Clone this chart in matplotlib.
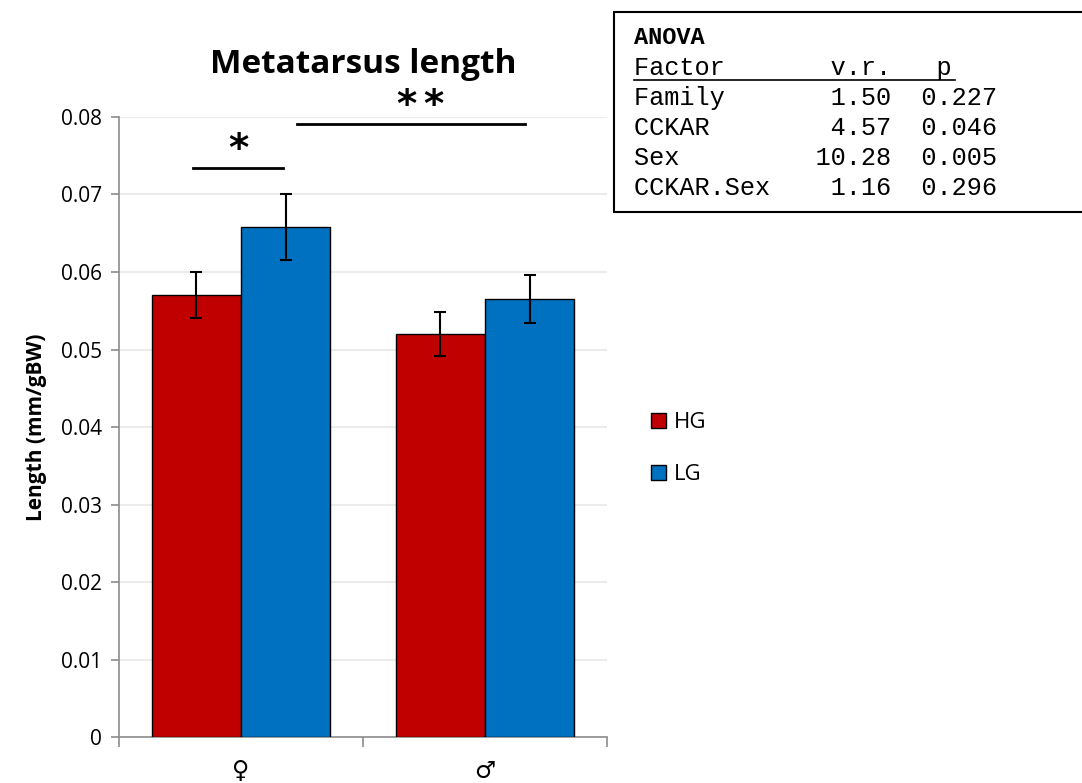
import numpy as np
import matplotlib
matplotlib.use("Agg")
import matplotlib.pyplot as plt
from matplotlib.patches import Rectangle
from matplotlib.lines import Line2D

plt.rcParams['font.family'] = ['Open Sans', 'DejaVu Sans']

sexes = ["\u2640", "\u2642"]
groups = ["HG", "LG"]
hg_mean = [0.0570, 0.0520]
hg_err = [0.0030, 0.0029]
lg_mean = [0.0658, 0.0565]
lg_err = [0.0043, 0.0031]

anova_rows = [
    ("Family", "1.50", "0.227"),
    ("CCKAR", "4.57", "0.046"),
    ("Sex", "10.28", "0.005"),
    ("CCKAR.Sex", "1.16", "0.296"),
]

red = "#C00000"
blue = "#0070C0"
grey = "#8c8c8c"

fig = plt.figure(figsize=(10.82, 7.83), dpi=100)
ax = fig.add_axes([0.110, 0.0587, 0.451, 0.7919])

x = np.arange(len(sexes))
w = 0.365
ax.bar(x - w / 2, hg_mean, w, color=red, edgecolor="black", linewidth=1, label=groups[0], zorder=3)
ax.bar(x + w / 2, lg_mean, w, color=blue, edgecolor="black", linewidth=1, label=groups[1], zorder=3)
ax.errorbar(x - w / 2, hg_mean, yerr=hg_err, fmt="none", ecolor="black", elinewidth=1.5, capsize=4.5, capthick=1.5, zorder=4)
ax.errorbar(x + w / 2, lg_mean, yerr=lg_err, fmt="none", ecolor="black", elinewidth=1.5, capsize=4.5, capthick=1.5, zorder=4)

ax.set_xlim(-0.5, 1.5)
ax.set_ylim(0, 0.08)
ax.set_yticks(np.arange(0, 0.081, 0.01))
ax.set_yticklabels(["0"] + ["%.2f" % v for v in np.arange(0.01, 0.081, 0.01)], fontsize=15)
ax.set_xticks(x)
ax.set_xticklabels(sexes, family="DejaVu Sans", fontsize=17)
ax.set_xticks([-0.5, 0.5, 1.5], minor=True)
ax.tick_params(axis="x", which="major", length=0, pad=16)
ax.tick_params(axis="x", which="minor", length=7, color=grey, width=1.2)
ax.tick_params(axis="y", length=6, color=grey, width=1.2, pad=6)
ax.yaxis.grid(True, color="#ececec", linewidth=1.5, zorder=0)
ax.set_axisbelow(True)
for s in ["top", "right"]:
    ax.spines[s].set_visible(False)
for s in ["left", "bottom"]:
    ax.spines[s].set_color(grey)
    ax.spines[s].set_linewidth(1.2)

ax.set_ylabel("Length (mm/gBW)", fontsize=15, fontweight="bold", labelpad=10)
ax.set_title("Metatarsus length", fontsize=24, fontweight="bold", pad=32)

# significance brackets
ax.plot([-0.197, 0.172], [0.0734, 0.0734], color="black", lw=2, clip_on=False)
ax.text(-0.012, 0.0757, "*", ha="center", va="center", fontsize=28, fontweight="bold", family="DejaVu Sans")
ax.plot([0.229, 1.164], [0.0791, 0.0791], color="black", lw=2, clip_on=False)
ax.text(0.678, 0.0814, "*", ha="center", va="center", fontsize=28, fontweight="bold", family="DejaVu Sans", clip_on=False)
ax.text(0.789, 0.0814, "*", ha="center", va="center", fontsize=28, fontweight="bold", family="DejaVu Sans", clip_on=False)

fig.legend(loc="center left", bbox_to_anchor=(0.591, 0.427), frameon=False, fontsize=16,
           handlelength=0.7, handleheight=0.7, handletextpad=0.35, labelspacing=1.4, borderpad=0)

# ANOVA table box
fig.patches.append(Rectangle((614 / 1082, 1 - 212 / 783), 0.5, 200 / 783, transform=fig.transFigure,
                             facecolor="white", edgecolor="black", linewidth=1.5))
mono = "Liberation Mono"
tx = 634 / 1082
fig.text(tx, 1 - 37 / 783, "ANOVA", family=mono, fontweight="bold", fontsize=17, va="center")
fig.text(tx, 1 - 68 / 783, "Factor       v.r.   p", family=mono, fontsize=18.2, va="center")
fig.lines.append(Line2D([634 / 1082, 955 / 1082], [1 - 80 / 783, 1 - 80 / 783], transform=fig.transFigure,
                        color="black", lw=1.2))
for i, (name, vr, p) in enumerate(anova_rows):
    line = name.ljust(17 - len(vr)) + vr + "  " + p
    fig.text(tx, 1 - (98 + 30 * i) / 783, line, family=mono, fontsize=18.2, va="center")

fig.savefig("out.png", dpi=100)
